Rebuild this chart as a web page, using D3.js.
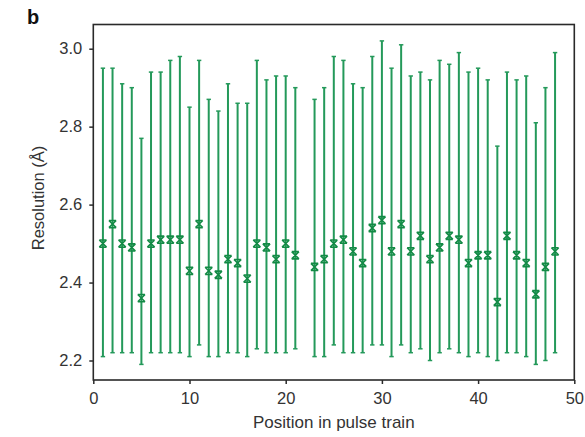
<!DOCTYPE html>
<html>
<head>
<meta charset="utf-8">
<script src="https://cdn.jsdelivr.net/npm/d3@7"></script>
<style>
  html, body { margin: 0; padding: 0; background: #fff; }
  svg { display: block; font-family: "Liberation Sans", Arial, sans-serif; }
</style>
</head>
<body>
<svg id="chart" width="585" height="437"></svg>
<script>
// Data
const positions = [1,2,3,4,5,6,7,8,9,10,11,12,13,14,15,16,17,18,19,20,21,
                   23,24,25,26,27,28,29,30,31,32,33,34,35,36,37,38,39,40,41,42,43,44,45,46,47,48];
const means = [2.50,2.55,2.50,2.49,2.36,2.50,2.51,2.51,2.51,2.43,2.55,2.43,2.42,2.46,2.45,2.41,2.50,2.49,2.46,2.50,2.47,
               2.44,2.46,2.50,2.51,2.48,2.45,2.54,2.56,2.48,2.55,2.48,2.52,2.46,2.49,2.52,2.51,2.45,2.47,2.47,2.35,2.52,2.47,2.45,2.37,2.44,2.48];
const highs = [2.95,2.95,2.91,2.90,2.77,2.94,2.94,2.97,2.98,2.85,2.97,2.87,2.84,2.91,2.86,2.86,2.97,2.92,2.93,2.93,2.90,
               2.87,2.90,2.98,2.97,2.91,2.90,2.98,3.02,2.95,3.01,2.93,2.94,2.92,2.97,2.96,2.99,2.94,2.95,2.92,2.75,2.94,2.92,2.93,2.81,2.90,2.99];
const lows = [2.21,2.22,2.22,2.22,2.19,2.22,2.22,2.22,2.22,2.21,2.24,2.21,2.21,2.22,2.22,2.21,2.23,2.22,2.22,2.22,2.23,
              2.21,2.21,2.24,2.22,2.22,2.22,2.24,2.24,2.21,2.24,2.22,2.23,2.20,2.22,2.23,2.22,2.21,2.22,2.21,2.20,2.22,2.22,2.21,2.19,2.20,2.22];
const xTicks = [0,10,20,30,40,50];
const yTicks = [2.2,2.4,2.6,2.8,3.0];
const xLabel = "Position in pulse train";
const yLabel = "Resolution (Å)";
const panelLabel = "b";

const svg = d3.select("#chart");
const pLeft = 93.3, pRight = 574.3, pTop = 24.5, pBottom = 380;
const green = "#24995a";
const markGreen = "#138a45";

const x = d3.scaleLinear().domain([0, 50]).range([pLeft, pRight]);
const y = d3.scaleLinear().domain([2.2, 3.0]).range([360.5, 48.7]);

const data = positions.map((p, i) => ({p, m: means[i], hi: highs[i], lo: lows[i]}));

// error bars
const g = svg.append("g");
g.selectAll("line.bar").data(data).enter().append("line")
  .attr("x1", d => x(d.p)).attr("x2", d => x(d.p))
  .attr("y1", d => y(d.hi)).attr("y2", d => y(d.lo))
  .attr("stroke", green).attr("stroke-width", 2);
const capW = 2.2;
g.selectAll("line.capT").data(data).enter().append("line")
  .attr("x1", d => x(d.p) - capW).attr("x2", d => x(d.p) + capW)
  .attr("y1", d => y(d.hi)).attr("y2", d => y(d.hi))
  .attr("stroke", green).attr("stroke-width", 1.5);
g.selectAll("line.capB").data(data).enter().append("line")
  .attr("x1", d => x(d.p) - capW).attr("x2", d => x(d.p) + capW)
  .attr("y1", d => y(d.lo)).attr("y2", d => y(d.lo))
  .attr("stroke", green).attr("stroke-width", 1.5);

// markers: x with top and bottom bars
const s = 3.6;
g.selectAll("path.mark").data(data).enter().append("path")
  .attr("transform", d => `translate(${x(d.p)},${y(d.m)})`)
  .attr("d", `M${-s},${-s}L${s},${s}M${-s},${s}L${s},${-s}M${-s},${-s}L${s},${-s}M${-s},${s}L${s},${s}`)
  .attr("fill", "none").attr("stroke", markGreen).attr("stroke-width", 1.6);

// frame
svg.append("rect")
  .attr("x", pLeft).attr("y", pTop).attr("width", pRight - pLeft).attr("height", pBottom - pTop)
  .attr("fill", "none").attr("stroke", "#2a2a2a").attr("stroke-width", 1.6);

// axes
const yAxis = d3.axisLeft(y).tickValues(yTicks).tickFormat(d3.format(".1f")).tickSize(4).tickPadding(7);
const ya = svg.append("g").attr("transform", `translate(${pLeft},0)`).call(yAxis);
ya.select(".domain").remove();
ya.selectAll("line").attr("stroke", "#2a2a2a").attr("stroke-width", 1.5);
ya.selectAll("text").attr("font-size", 16.5).attr("fill", "#333").style("font-family", "Liberation Sans, Arial, sans-serif");

const xAxis = d3.axisBottom(x).tickValues(xTicks).tickFormat(d3.format("d")).tickSize(4).tickPadding(8);
const xa = svg.append("g").attr("transform", `translate(0,${pBottom})`).call(xAxis);
xa.select(".domain").remove();
xa.selectAll("line").attr("stroke", "#2a2a2a").attr("stroke-width", 1.5);
xa.selectAll("text").attr("font-size", 16.5).attr("fill", "#333").style("font-family", "Liberation Sans, Arial, sans-serif");

// titles
svg.append("text").attr("x", (pLeft + pRight) / 2).attr("y", 428)
  .attr("text-anchor", "middle").attr("font-size", 17).attr("fill", "#333").text(xLabel);
svg.append("text").attr("transform", `translate(44,198) rotate(-90)`)
  .attr("text-anchor", "middle").attr("font-size", 16.5).attr("fill", "#333").text(yLabel);
svg.append("text").attr("x", 27).attr("y", 24)
  .attr("font-size", 20).attr("font-weight", "bold").attr("fill", "#111").text(panelLabel);
</script>
</body>
</html>
